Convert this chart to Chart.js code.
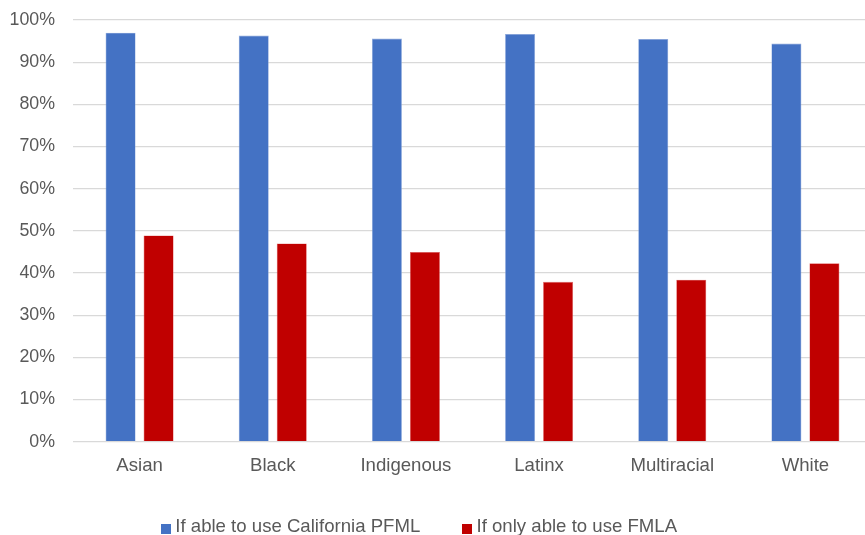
<!DOCTYPE html>
<html>
<head>
<meta charset="utf-8">
<script src="https://cdn.jsdelivr.net/npm/chart.js@4"></script>
<style>
  html, body { margin: 0; padding: 0; background: #fff; overflow: hidden; }
  #wrap { position: relative; width: 872px; height: 535px; }
</style>
</head>
<body>
<div id="wrap"><canvas id="chart"></canvas></div>
<script>
// Share of respondents by race/ethnicity (percent)
const categories = ['Asian', 'Black', 'Indigenous', 'Latinx', 'Multiracial', 'White'];
const pfmlValues = [97.0, 96.3, 95.6, 96.7, 95.5, 94.4];
const fmlaValues = [48.9, 47.0, 45.0, 37.9, 38.4, 42.3];
const seriesNames = ['If able to use California PFML', 'If only able to use FMLA'];
const seriesColors = ['#4472C4', '#C00000'];
const seriesEdges = ['#8faadc', '#e06666'];

const textColor = '#595959';
const fontFamily = '"Liberation Sans", Arial, sans-serif';

// Legend layout settings
const LEGEND_FONT = 18.6;
const LEGEND_GAP = 46;        // space between legend entries
const LEGEND_HEIGHT = 45;     // room reserved under the x axis
const LEGEND_START_X = 165;   // left edge of the first entry
const LEGEND_TEXT_Y = 527;    // vertical centre of the legend text

// Small square swatch used as the legend marker (sits slightly below the text centre)
function swatch(color) {
  const c = document.createElement('canvas');
  c.width = 10; c.height = 14;
  const g = c.getContext('2d');
  g.fillStyle = color;
  g.fillRect(0, 4, 10, 10);
  return c;
}
const swatches = seriesColors.map(swatch);

const legendPlacement = {
  id: 'legendPlacement',
  beforeLayout(chart) {
    const lg = chart.legend;
    if (lg && !lg._fixedFit) {
      const fit = lg.fit;
      lg.fit = function () { fit.call(this); this.height = LEGEND_HEIGHT; };
      lg._fixedFit = true;
    }
  },
  afterLayout(chart) {
    const lg = chart.legend;
    if (!lg || !lg.lineWidths) return;
    const p = LEGEND_GAP;
    const x0 = (lg.left + p + lg.right - lg.lineWidths[0]) / 2;
    const dx = LEGEND_START_X - x0;
    lg.left += dx; lg.right += dx;
    lg.top = LEGEND_TEXT_Y - LEGEND_FONT / 2 - p;
    lg.bottom = chart.height;
  }
};

new Chart(document.getElementById('chart'), {
  type: 'bar',
  data: {
    labels: categories,
    datasets: [
      {
        label: seriesNames[0],
        data: pfmlValues,
        backgroundColor: seriesColors[0],
        borderColor: seriesEdges[0],
        borderWidth: 0.6,
        categoryPercentage: 0.571,
        barPercentage: 0.79
      },
      {
        label: seriesNames[1],
        data: fmlaValues,
        backgroundColor: seriesColors[1],
        borderColor: seriesEdges[1],
        borderWidth: 0.6,
        categoryPercentage: 0.571,
        barPercentage: 0.79
      }
    ]
  },
  plugins: [legendPlacement],
  options: {
    responsive: true,
    maintainAspectRatio: false,
    animation: false,
    layout: { padding: { top: 20, left: 0, right: 0, bottom: 0 } },
    plugins: {
      tooltip: { enabled: false },
      legend: {
        position: 'bottom',
        labels: {
          color: textColor,
          font: { family: fontFamily, size: LEGEND_FONT },
          usePointStyle: true,
          boxWidth: 1,
          boxHeight: 10,
          padding: LEGEND_GAP,
          generateLabels(chart) {
            const items = Chart.defaults.plugins.legend.labels.generateLabels(chart);
            return items.map((it, i) => Object.assign(it, { pointStyle: swatches[i] }));
          }
        }
      }
    },
    scales: {
      x: {
        grid: { display: false, drawTicks: false },
        border: { display: false },
        ticks: {
          color: textColor,
          font: { family: fontFamily, size: 18.6 },
          padding: 13
        }
      },
      y: {
        min: 0,
        max: 100,
        afterFit(scale) { scale.width = 73; },
        grid: {
          color: '#d9d9d9',
          lineWidth: 1.3,
          drawTicks: true,
          tickLength: 18,
          tickColor: 'rgba(0,0,0,0)'
        },
        border: { display: false },
        ticks: {
          stepSize: 10,
          color: textColor,
          font: { family: fontFamily, size: 17.8 },
          padding: 0,
          callback: v => v + '%'
        }
      }
    }
  }
});
</script>
</body>
</html>
